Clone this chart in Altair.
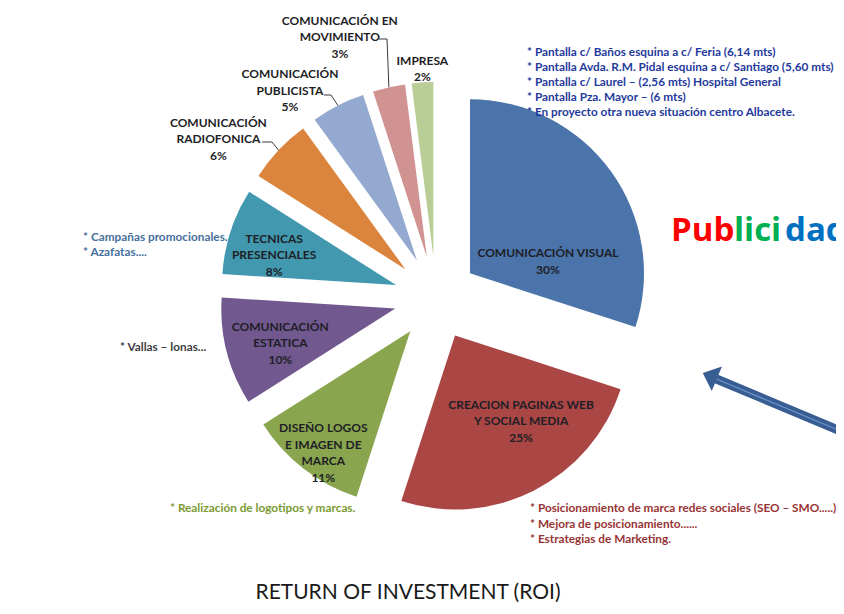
import altair as alt
import pandas as pd
import numpy as np

# ---------------- data ----------------
categories = ["COMUNICACIÓN VISUAL", "CREACION PAGINAS WEB Y SOCIAL MEDIA",
              "DISEÑO LOGOS E IMAGEN DE MARCA", "COMUNICACIÓN ESTATICA",
              "TECNICAS PRESENCIALES", "COMUNICACIÓN RADIOFONICA",
              "COMUNICACIÓN PUBLICISTA", "COMUNICACIÓN EN MOVIMIENTO", "IMPRESA"]
label_lines = ["COMUNICACIÓN VISUAL", "CREACION  PAGINAS WEB\nY SOCIAL MEDIA",
               "DISEÑO  LOGOS\nE IMAGEN  DE\nMARCA", "COMUNICACIÓN\nESTATICA",
               "TECNICAS\nPRESENCIALES", "COMUNICACIÓN\nRADIOFONICA",
               "COMUNICACIÓN\nPUBLICISTA", "COMUNICACIÓN  EN\nMOVIMIENTO", "IMPRESA"]
values = [30, 25, 11, 10, 8, 6, 5, 3, 2]
colors = ["#4a74aa", "#aa4644", "#89a54e", "#71588f", "#4198af",
          "#db843d", "#93a9cf", "#d19392", "#b9cd96"]

notes_visual = ["* Pantalla c/ Baños esquina a c/ Feria  (6,14 mts)",
                "* Pantalla Avda. R.M. Pidal esquina a c/ Santiago (5,60 mts)",
                "* Pantalla c/ Laurel –  (2,56 mts) Hospital General",
                "* Pantalla Pza. Mayor – (6 mts)",
                "* En proyecto otra nueva situación centro Albacete."]
notes_presenciales = ["* Campañas promocionales.", "* Azafatas...."]
notes_estatica = ["* Vallas – lonas..."]
notes_logos = ["* Realización de logotipos y marcas."]
notes_web = ["* Posicionamiento de marca redes sociales (SEO – SMO.....)",
             "* Mejora de posicionamiento......",
             "* Estrategias de Marketing."]
title_text = "RETURN OF INVESTMENT (ROI)"
brand_parts = ["Pub", "lici", "dad"]
brand_colors = ["#ff0000", "#00b050", "#0070c0"]

# ---------------- layout (page pixels) ----------------
W, H = 828, 598
CX, CY, EXPLODE, R = 436, 298, 42, 174
LH = 16.5
label_offsets = [(78, -12), (66, 86), (-87, 122), (-115, 35), (-122, -30),
                 (-187, -130), (-127, -170), (-87, -220), (-11, -187)]
leader_elbows = {5: [(262, 142), (272, 142)], 6: [(324, 95), (331, 95)],
                 7: [(379, 39), (387, 39)]}
notes_pos = [(527, 52, 15, "#1f3a9c", notes_visual),
             (83, 237, 15, "#46709c", notes_presenciales),
             (120, 347, 15, "#404040", notes_estatica),
             (170, 508, 15, "#7a9a32", notes_logos),
             (530, 508, 15.5, "#973434", notes_web)]
brand_x = [671, 734, 785]

xs = alt.Scale(domain=[8, 8 + W], range=[0, W])
ys = alt.Scale(domain=[8, 8 + H], range=[0, H])

# slices
vals = np.array(values, dtype=float)
ends = np.cumsum(vals) / vals.sum() * 2 * np.pi
starts = ends - vals / vals.sum() * 2 * np.pi
mids = (starts + ends) / 2
ax = CX + EXPLODE * np.sin(mids)
ay = CY - EXPLODE * np.cos(mids)

slices = pd.DataFrame({"cat": categories, "value": values, "color": colors,
                       "t0": starts, "t1": ends, "ax": ax, "ay": ay})

arcs = alt.Chart(slices).mark_arc(radius=R).encode(
    x=alt.X("ax:Q", scale=xs, axis=None),
    y=alt.Y("ay:Q", scale=ys, axis=None),
    theta=alt.Theta("t0:Q", scale=None),
    theta2=alt.Theta2("t1:Q"),
    color=alt.Color("color:N", scale=None),
    tooltip=["cat:N", "value:Q"],
)

texts = [f"{l}\n{v}%" for l, v in zip(label_lines, values)]
nlines = [t.count("\n") + 1 for t in texts]
labels = pd.DataFrame({
    "text": texts,
    "lx": [a + o[0] for a, o in zip(ax, label_offsets)],
    "ly": [b + o[1] - (n - 1) * LH / 2 for b, o, n in zip(ay, label_offsets, nlines)],
})
label_layer = alt.Chart(labels).mark_text(
    font="Lato", fontWeight="bold", fontSize=12, lineBreak="\n", lineHeight=LH,
    align="center", baseline="middle", color="#1e1e26"
).encode(x=alt.X("lx:Q", scale=xs), y=alt.Y("ly:Q", scale=ys), text="text:N")

# leader lines
segs = []
for i, pts in leader_elbows.items():
    end = (ax[i] + R * np.sin(mids[i]), ay[i] - R * np.cos(mids[i]))
    p = pts + [end]
    for a, b in zip(p[:-1], p[1:]):
        segs.append({"x": a[0], "y": a[1], "x2": b[0], "y2": b[1]})
leaders = alt.Chart(pd.DataFrame(segs)).mark_rule(color="#3a3a3a", strokeWidth=1).encode(
    x=alt.X("x:Q", scale=xs), y=alt.Y("y:Q", scale=ys), x2="x2:Q", y2="y2:Q")

# notes
rows = []
for x0, y0, dy, col, lines in notes_pos:
    for k, t in enumerate(lines):
        rows.append({"x": x0, "y": y0 + k * dy, "text": t, "color": col})
notes = alt.Chart(pd.DataFrame(rows)).mark_text(
    font="Lato", fontWeight="bold", fontSize=11.8, align="left", baseline="middle"
).encode(x=alt.X("x:Q", scale=xs), y=alt.Y("y:Q", scale=ys), text="text:N",
         color=alt.Color("color:N", scale=None))

# brand word
brand = alt.Chart(pd.DataFrame({"text": brand_parts, "color": brand_colors,
                                "x": brand_x, "y": [241] * 3})).mark_text(
    font="Open Sans", fontWeight="bold", fontSize=33, align="left", baseline="alphabetic"
).encode(x=alt.X("x:Q", scale=xs), y=alt.Y("y:Q", scale=ys), text="text:N",
         color=alt.Color("color:N", scale=None))

title = alt.Chart(pd.DataFrame({"text": [title_text], "x": [408], "y": [593]})).mark_text(
    font="Lato", fontSize=21, align="center", baseline="middle", color="#1a1a1a"
).encode(x=alt.X("x:Q", scale=xs), y=alt.Y("y:Q", scale=ys), text="text:N")

# arrow
arrow_df = pd.DataFrame({"x": [714], "y": [378], "x2": [862], "y2": [440]})
shaft = alt.Chart(arrow_df).mark_rule(color="#385d93", strokeWidth=9).encode(
    x=alt.X("x:Q", scale=xs), y=alt.Y("y:Q", scale=ys), x2="x2:Q", y2="y2:Q")
shaft_hi = alt.Chart(arrow_df).mark_rule(color="#6c95cb", strokeWidth=1.3).encode(
    x=alt.X("x:Q", scale=xs), y=alt.Y("y:Q", scale=ys), x2="x2:Q", y2="y2:Q")
head = alt.Chart(pd.DataFrame({"x": [715], "y": [378]})).mark_point(
    shape="M0,-1L1,0.15L-1,0.15Z", size=700, angle=292.7, filled=True,
    color="#385d93", opacity=1
).encode(x=alt.X("x:Q", scale=xs), y=alt.Y("y:Q", scale=ys))

chart = alt.layer(arcs, leaders, label_layer, notes, brand, title, shaft, shaft_hi, head).properties(
    width=W, height=H, autosize="none", padding=0, background="white"
).configure_view(stroke=None)

chart.save("out.html", embed_options={"renderer": "svg", "actions": False})
